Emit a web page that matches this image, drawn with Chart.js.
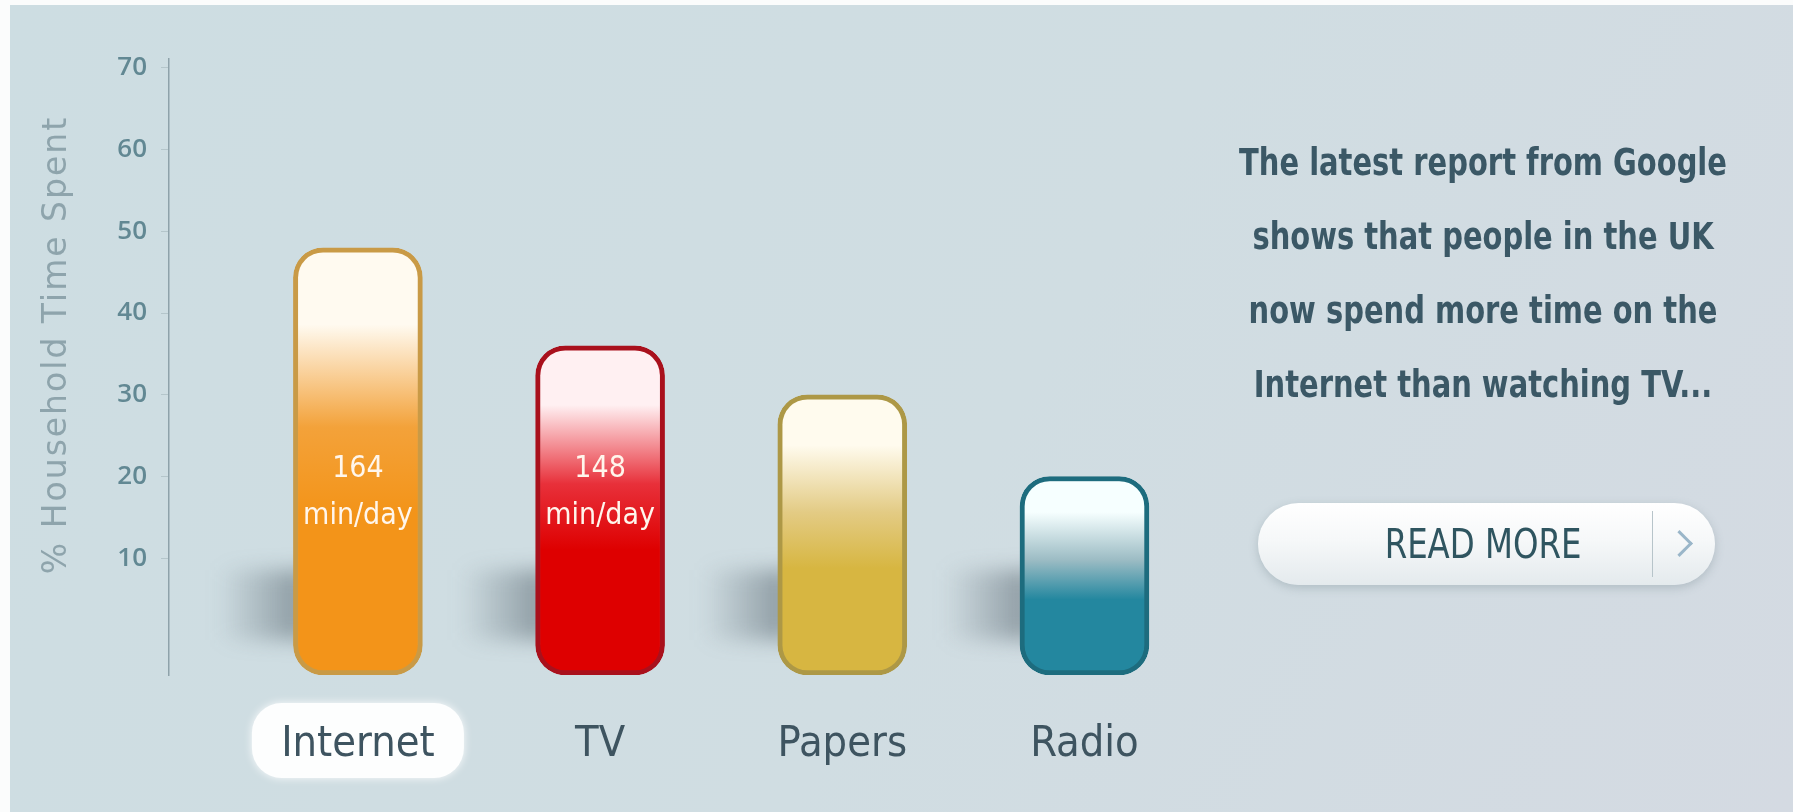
<!DOCTYPE html>
<html>
<head>
<meta charset="utf-8">
<title>Household time spent</title>
<script src="https://cdn.jsdelivr.net/npm/chart.js@4.4.0/dist/chart.umd.min.js"></script>
<style>
  html, body { margin: 0; padding: 0; background: #fbfcfc; }
  #wrap { position: relative; width: 1793px; height: 812px; overflow: hidden; }
  #panel {
    position: absolute; left: 10px; top: 5px; right: 0; bottom: 0;
    background: linear-gradient(120deg, #cddde2 0%, #d0dde2 55%, #d4dae2 100%);
  }
  #chart { position: absolute; left: 0; top: 0; }
  .narrow { font-family: 'DejaVu Sans Condensed', 'DejaVu Sans', sans-serif; font-stretch: condensed; }
  .blurb {
    position: absolute; left: 1183px; width: 600px; top: 126px;
    text-align: center; color: #3b5866; white-space: nowrap;
    font-size: 37px; font-weight: bold; line-height: 74px;
    transform: scaleX(0.87); transform-origin: 300px 0;
  }
  .btn {
    position: absolute; left: 1258px; top: 503px; width: 457px; height: 82px;
    border-radius: 41px;
    background: linear-gradient(#ffffff 0%, #f6f8f9 45%, #e4eaed 100%);
    box-shadow: 0 3px 10px rgba(90, 110, 120, 0.28);
  }
  .btn .label {
    position: absolute; left: 0; width: 450px; top: 0; height: 82px;
    text-align: center; color: #2f5560;
    font-size: 40px; line-height: 82px;
    transform: scaleX(0.9); transform-origin: 225px 0;
  }
  .btn .sep { position: absolute; left: 394px; top: 8px; bottom: 8px; width: 1px; background: #b7c4ca; }
  .btn .arrow {
    position: absolute; left: 412px; top: 31px; width: 16px; height: 16px;
    border-top: 3px solid #9ab6c9; border-right: 3px solid #9ab6c9;
    transform: rotate(45deg);
  }
</style>
</head>
<body>
<div id="wrap">
  <div id="panel"></div>
  <canvas id="chart" width="1793" height="812"></canvas>
  <div class="blurb narrow">The latest report from Google<br>shows that people in the UK<br>now spend more time on the<br>Internet than watching TV...</div>
  <div class="btn"><span class="label narrow">READ MORE</span><span class="sep"></span><span class="arrow"></span></div>
</div>
<script>
(function () {
    'use strict';

    // chart data
    const categories = ['Internet', 'TV', 'Papers', 'Radio'];
    const shares = [48, 36, 30, 20];              // % household time spent
    const minutesPerDay = ['164', '148', null, null];
    const yTicks = [10, 20, 30, 40, 50, 60, 70];
    const yTitle = '% Household Time Spent';

    // axis range (bars sit a little below the zero line in the original)
    const Y_MIN = -4.3, Y_MAX = 71.1;

    // bar palette: top highlight, middle, bottom, edge
    const barTop = ['#fffaf0', '#fff0f2', '#fffbee', '#f6ffff'];
    const barMid = ['#f3a23a', '#e8303a', '#e3cb84', '#9cbcc4'];
    const barLow = ['#f39419', '#de0000', '#d7b641', '#23879f'];
    const barEdge = ['#c99a46', '#a9101c', '#ad9846', '#1d6c7e'];

    const NARROW = "'DejaVu Sans Condensed', 'DejaVu Sans', sans-serif";

    function barFill(ctx) {
        const i = ctx.dataIndex;
        const chart = ctx.chart;
        if (i === undefined || !chart.chartArea) return barLow[i || 0];
        const y = chart.scales.y;
        const top = y.getPixelForValue(shares[i]);
        const bottom = y.getPixelForValue(Y_MIN);
        const g = chart.ctx.createLinearGradient(0, top, 0, bottom);
        g.addColorStop(0, barTop[i]);
        g.addColorStop(0.18, barTop[i]);
        g.addColorStop(0.42, barMid[i]);
        g.addColorStop(0.62, barLow[i]);
        g.addColorStop(1, barLow[i]);
        return g;
    }

    // soft shadow to the left of each bar, white pill behind the first label
    const decor = {
        id: 'decor',
        beforeDraw(chart) {
            const c = chart.ctx;
            const x = chart.scales.x.getPixelForValue(0);
            c.save();
            c.shadowColor = 'rgba(255,255,255,0.9)';
            c.shadowBlur = 8;
            c.fillStyle = '#fdfefe';
            c.beginPath();
            c.roundRect(x - 106, 703, 212, 75, 30);
            c.fill();
            c.restore();
        },
        beforeDatasetsDraw(chart) {
            const c = chart.ctx;
            chart.getDatasetMeta(0).data.forEach(el => {
                const p = el.getProps(['x', 'width', 'base'], true);
                const left = p.x - p.width / 2;
                const g = c.createLinearGradient(left - 75, 0, left + 10, 0);
                g.addColorStop(0, 'rgba(80, 95, 105, 0)');
                g.addColorStop(0.6, 'rgba(80, 95, 105, 0.32)');
                g.addColorStop(1, 'rgba(70, 84, 94, 0.5)');
                c.save();
                c.filter = 'blur(10px)';
                c.fillStyle = g;
                c.fillRect(left - 75, p.base - 105, 90, 70);
                c.restore();
            });
        },
        afterDatasetsDraw(chart) {
            const c = chart.ctx;
            const y = chart.scales.y.getPixelForValue(18);
            c.save();
            c.fillStyle = '#fff6ec';
            c.textAlign = 'center';
            c.textBaseline = 'middle';
            c.font = 'condensed 30px ' + NARROW;
            chart.getDatasetMeta(0).data.forEach((el, i) => {
                if (!minutesPerDay[i]) return;
                c.fillText(minutesPerDay[i], el.x, y - 24);
                c.fillText('min/day', el.x, y + 23);
            });
            c.restore();
        },
        afterDraw(chart) {
            const c = chart.ctx;
            c.save();
            c.translate(57, 345);
            c.rotate(-Math.PI / 2);
            c.fillStyle = '#8ea4ac';
            c.font = '33px "DejaVu Sans", sans-serif';
            c.letterSpacing = '2px';
            c.textAlign = 'center';
            c.textBaseline = 'middle';
            c.fillText(yTitle, 0, 0);
            c.restore();
        }
    };

    new Chart(document.getElementById('chart'), {
        type: 'bar',
        data: {
            datasets: [{
                data: shares.map((v, i) => ({ x: i, y: v })),
                base: Y_MIN,
                backgroundColor: barFill,
                borderColor: barEdge,
                borderWidth: 5,
                borderRadius: 30,
                borderSkipped: false,
                barThickness: 129
            }]
        },
        options: {
            responsive: false,
            animation: false,
            layout: { padding: { top: 59, right: 539, bottom: 0, left: 0 } },
            plugins: { legend: { display: false }, tooltip: { enabled: false } },
            scales: {
                x: {
                    type: 'linear',
                    offset: false,
                    min: -0.78,
                    max: 3.7,
                    afterBuildTicks: s => { s.ticks = categories.map((c, i) => ({ value: i })); },
                    afterFit: s => { s.height = 137; },
                    ticks: {
                        callback: v => categories[v],
                        color: '#3e5460',
                        font: { family: NARROW, size: 43, style: 'condensed' },
                        padding: 44,
                        autoSkip: false,
                        maxRotation: 0
                    },
                    grid: { display: false, drawTicks: false },
                    border: { display: false }
                },
                y: {
                    min: Y_MIN,
                    max: Y_MAX,
                    afterBuildTicks: s => { s.ticks = yTicks.map(v => ({ value: v })); },
                    afterFit: s => { s.width = 169; },
                    ticks: {
                        color: '#628893',
                        font: { family: 'Open Sans', size: 26, weight: '600' },
                        padding: 14
                    },
                    grid: { drawOnChartArea: false, tickLength: 8, color: '#b4c5ca' },
                    border: { color: '#8ea2aa', width: 1.5 }
                }
            }
        },
        plugins: [decor]
    });
})();
</script>
</body>
</html>
